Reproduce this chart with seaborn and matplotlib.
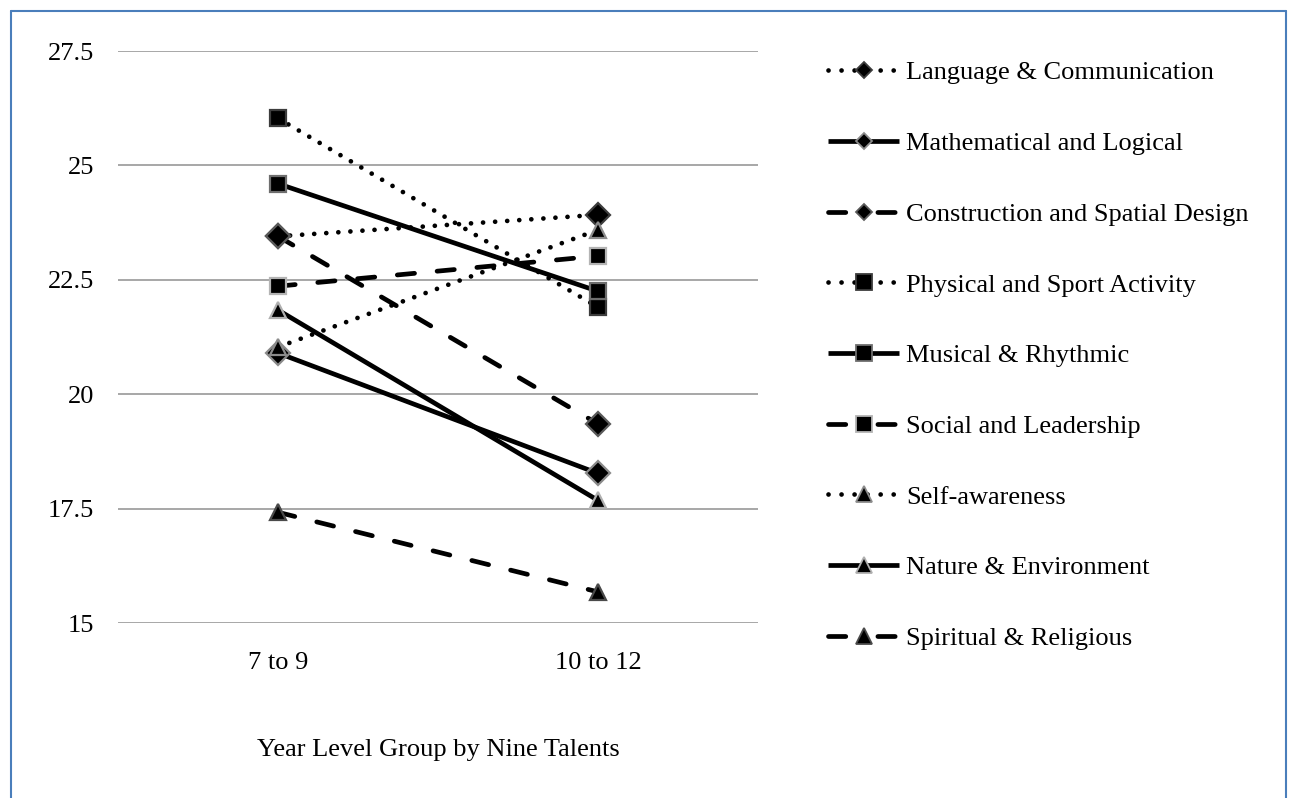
import matplotlib
matplotlib.use("Agg")
import matplotlib.pyplot as plt
import seaborn as sns
import pandas as pd
import numpy as np
from matplotlib.lines import Line2D

# ---------------- data ----------------
groups = ["7 to 9", "10 to 12"]
talents = ["Language & Communication", "Mathematical and Logical",
           "Construction and Spatial Design", "Physical and Sport Activity",
           "Musical & Rhythmic", "Social and Leadership", "Self-awareness",
           "Nature & Environment", "Spiritual & Religious"]
language = [23.45, 23.92]
mathematical = [20.90, 18.27]
construction = [23.45, 19.35]
physical = [26.03, 21.90]
musical = [24.60, 22.25]
social = [22.36, 23.02]
self_awareness = [21.03, 23.59]
nature = [21.84, 17.68]
spiritual = [17.42, 15.68]
yticks = [15, 17.5, 20, 22.5, 25, 27.5]
ytick_labels = ["15", "17.5", "20", "22.5", "25", "27.5"]
x_title = "Year Level Group by Nine Talents"

series = [language, mathematical, construction, physical, musical, social,
          self_awareness, nature, spiritual]

# ---------------- styles ----------------
marker_map = dict(zip(talents, ["D", "D", "D", "s", "s", "s", "^", "^", "^"]))
kinds = ["dot", "solid", "dash"] * 3
edge_cols = ["#3c3c3c", "#8a8a8a", "#5a5a5a",
             "#3c3c3c", "#6e6e6e", "#b4b4b4",
             "#8c8c8c", "#b0b0b0", "#4a4a4a"]
LW = 3.4
LS = {"dot": (0, (0.01, 2.55)), "solid": "-", "dash": (0, (3.66, 4.8))}
LS_LEG = {"dot": (0, (0.01, 2.75)), "solid": "-", "dash": (0, (3.66, 6.8))}

rows = []
for t, vals in zip(talents, series):
    for g, v in zip(groups, vals):
        rows.append({"group": g, "talent": t, "score": v})
df = pd.DataFrame(rows)

sns.set_theme(style="white")
plt.rcParams["font.family"] = ["Liberation Serif", "DejaVu Serif"]
plt.rcParams["text.color"] = "black"

W, H = 1290, 798
fig = plt.figure(figsize=(W / 100, H / 100), dpi=100)
ax = fig.add_axes([118 / W, 1 - 623 / H, (758 - 118) / W, (623 - 51) / H])

sns.lineplot(data=df, x="group", y="score", hue="talent", hue_order=talents,
             palette=["black"] * len(talents), style="talent", style_order=talents,
             markers=marker_map, dashes=False, markersize=12, linewidth=LW,
             sort=False, legend=False, ax=ax)

for line in ax.lines:
    yd = np.asarray(line.get_ydata(), dtype=float)
    for i, vals in enumerate(series):
        if len(yd) == 2 and np.allclose(yd, vals):
            line.set_linestyle(LS[kinds[i]])
            line.set_dash_capstyle("round")
            line.set_solid_capstyle("round")
            line.set_markeredgecolor(edge_cols[i])
            line.set_markerfacecolor("black")
            line.set_markeredgewidth(1.6)
            line.set_clip_on(False)
            break

ax.set_xlim(-0.5, 1.5)
ax.set_ylim(15, 27.5)
ax.set_yticks(yticks)
ax.set_yticklabels(ytick_labels)
ax.yaxis.grid(True, color="#a0a0a0", linewidth=1.3)
ax.xaxis.grid(False)
ax.set_axisbelow(True)
for s in ax.spines.values():
    s.set_visible(False)
ax.tick_params(axis="both", length=0, labelsize=19, colors="black")
ax.tick_params(axis="y", pad=17)
ax.tick_params(axis="x", pad=21)
ax.set_ylabel("")
ax.set_xlabel(x_title, fontsize=19, color="black", va="center")
ax.xaxis.set_label_coords(0.5, (623 - 750) / 572)

handles = []
for i, t in enumerate(talents):
    m = marker_map[t]
    handles.append(Line2D([], [], color="black", lw=LW, linestyle=LS_LEG[kinds[i]],
                          dash_capstyle="round", solid_capstyle="butt",
                          marker=m, markersize=8.5 if m == "D" else 12,
                          markerfacecolor="black", markeredgecolor=edge_cols[i],
                          markeredgewidth=1.3))
leg = ax.legend(handles, talents, loc="upper left",
                bbox_to_anchor=(828 / W, 1 - 61 / H), bbox_transform=fig.transFigure,
                frameon=False, borderpad=0, borderaxespad=0, handlelength=2.7,
                handletextpad=0.26, labelspacing=1.79, fontsize=19, numpoints=1)
for txt in leg.get_texts():
    txt.set_color("black")

bc = "#4a7ebb"
fig.add_artist(Line2D([11 / W, 11 / W], [0, 1 - 10.5 / H], transform=fig.transFigure, color=bc, lw=1.5))
fig.add_artist(Line2D([11 / W, 1286 / W], [1 - 10.5 / H, 1 - 10.5 / H], transform=fig.transFigure, color=bc, lw=1.5))
fig.add_artist(Line2D([1286 / W, 1286 / W], [0, 1 - 10.5 / H], transform=fig.transFigure, color=bc, lw=1.5))

fig.savefig("out.png", dpi=100)
